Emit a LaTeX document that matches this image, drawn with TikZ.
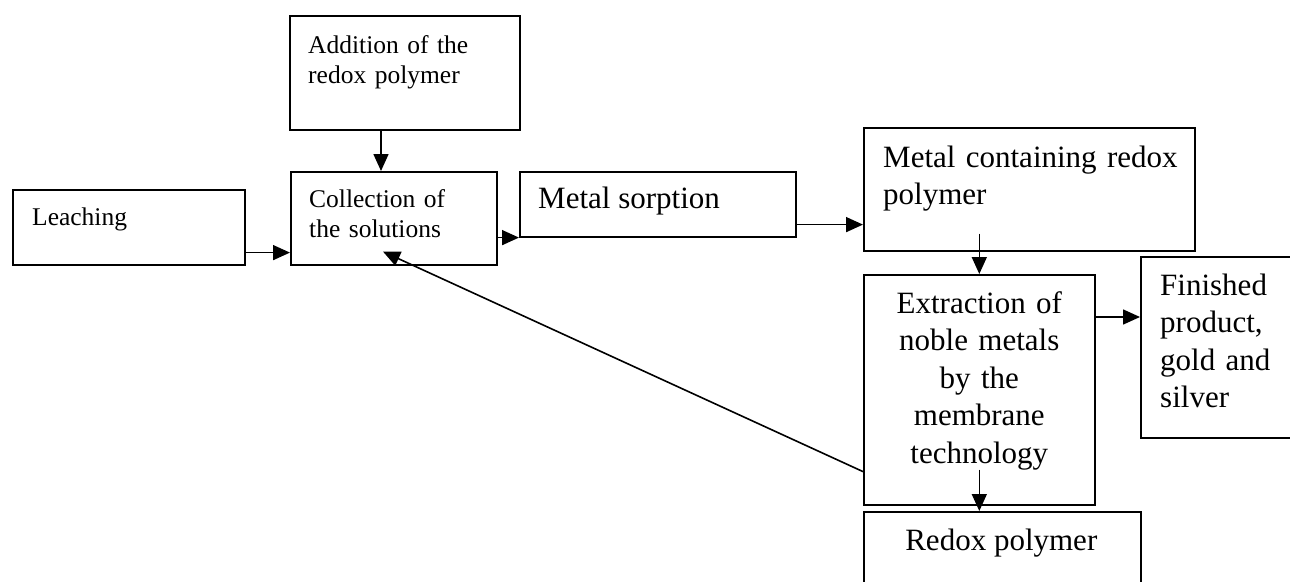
\documentclass[tikz,border=0pt]{standalone}
\usepackage{fontspec}
\setmainfont{Liberation Serif}
\usetikzlibrary{positioning}
\usetikzlibrary{arrows.meta}

\begin{document}
\begin{tikzpicture}[x=1pt,y=-1pt]
	\tikzstyle{box} = [draw, rectangle, line width=1.6pt, inner sep=0pt, anchor=north west]
	\tikzstyle{small} = [inner sep=0pt, font=\fontsize{25.5}{30}\selectfont]
	\tikzstyle{big} = [inner sep=0pt, font=\fontsize{31}{37.5}\selectfont]
	\tikzstyle{line} = [draw, line width=1.6pt, -{Triangle[length=17pt,width=15pt]}]

	\useasboundingbox (0,0) rectangle (1290,581);

	\node [box, minimum width=232pt, minimum height=75pt] (leach) at (12,189) {};
	\node [box, minimum width=230pt, minimum height=114pt] (addn) at (289,15) {};
	\node [box, minimum width=206pt, minimum height=93pt] (coll) at (290,171) {};
	\node [box, minimum width=276pt, minimum height=65pt] (sorp) at (519,171) {};
	\node [box, minimum width=331pt, minimum height=123pt] (metal) at (863,127) {};
	\node [box, minimum width=231pt, minimum height=230pt] (extr) at (863,274) {};
	\node [box, minimum width=200pt, minimum height=181pt] (fin) at (1140,256) {};
	\node [box, minimum width=277pt, minimum height=100pt] (redox) at (863,511) {};

	\node [small, anchor=base west] (leachtxt) at ([shift={(20pt,-36pt)}]leach.north west) {Leaching};
	\node [small, anchor=base west, text width=210pt, align=left] (addntxt) at ([shift={(19pt,-38pt)}]addn.north west) {Addition of the\\ redox polymer};
	\node [small, anchor=base west, text width=185pt, align=left] (colltxt) at ([shift={(19pt,-36pt)}]coll.north west) {Collection of\\ the solutions};
	\node [big, anchor=base west] (sorptxt) at ([shift={(19pt,-37pt)}]sorp.north west) {Metal sorption};
	\node [big, anchor=base west, text width=310pt, align=left] (metaltxt) at ([shift={(20pt,-40pt)}]metal.north west) {Metal containing redox\\ polymer};
	\node [big, anchor=base, text width=230pt, align=center] (extrtxt) at ([yshift=-39pt]extr.north) {Extraction of\\ noble metals\\ by the\\ membrane\\ technology};
	\node [big, anchor=base west, text width=140pt, align=left] (fintxt) at ([shift={(20pt,-39pt)}]fin.north west) {Finished\\ product,\\ gold and\\ silver};
	\node [big, anchor=base] (redoxtxt) at ([shift={(-1pt,-39pt)}]redox.north) {Redox polymer};

	\path [line] ([yshift=13pt]leach.south east) -- ([yshift=13pt]leach.south east -| coll.west);
	\path [line] ([xshift=92pt]addn.south west) -- ([xshift=92pt]addn.south west |- coll.north);
	\path [line] (coll.east |- sorp.south) -- (sorp.south west);
	\path [line] ([yshift=13pt]sorp.south east) -- ([yshift=13pt]sorp.south east -| metal.west);
	\path [line] ([yshift=18pt]metal.south -| extr.north) -- (extr.north);
	\path [line] ([yshift=-43pt]extr.north east) -- ([yshift=-43pt]extr.north east -| fin.west);
	\path [line] ([yshift=36pt]extr.south) -- (extr.south |- redox.north);
	\path [line] ([yshift=34pt]extr.south west) -- ([shift={(93pt,14pt)}]coll.south west);
\end{tikzpicture}
\end{document}
